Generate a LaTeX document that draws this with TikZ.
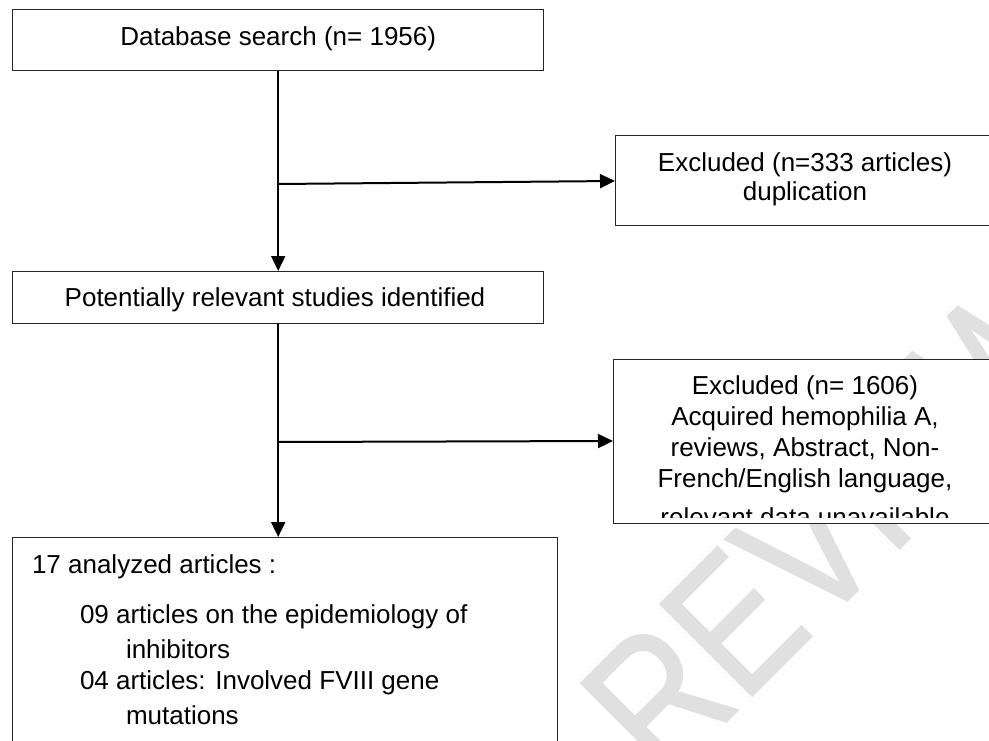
\documentclass[tikz,border=0pt]{standalone}
\usepackage{fontspec}
\setmainfont{Liberation Sans}
\newfontfamily\wmfont{Liberation Sans}[FakeStretch=0.82,FakeBold=1]
\usetikzlibrary{arrows.meta}
\definecolor{wm}{gray}{0.88}
\begin{document}
\begin{tikzpicture}[x=1pt,y=-1pt,
  box/.style={draw=black!85,line width=1pt,fill=white,rectangle,inner sep=0pt,outer sep=0pt},
  conn/.style={line width=2pt,draw=black},
  arr/.style={conn,-{Triangle[length=15pt,width=14pt]}},
  txt/.style={inner sep=0pt,outer sep=0pt,font=\fontsize{26pt}{31pt}\selectfont},
  ctxt/.style={txt,anchor=base},
  ltxt/.style={txt,anchor=base west}]
\useasboundingbox (0,0) rectangle (989,741);
\clip (0,0) rectangle (989,741);
\fill[white] (0,0) rectangle (989,741);
% watermark
\node[anchor=base west,rotate=45,text=wm,inner sep=0pt,outer sep=0pt,
      font=\wmfont\fontsize{189pt}{189pt}\selectfont] (wmark) at (664,784) {REVIEW};
% boxes
\node[box,minimum width=531pt,minimum height=61.4pt] (db) at (278.2,40) {};
\node[ctxt] (tdb) at (278.2,45.5) {Database search (n= 1956)};
\node[box,minimum width=531pt,minimum height=52pt] (pot) at (278.2,297) {};
\node[ctxt] (tpot) at (275,306) {Potentially relevant studies identified};
\node[box,minimum width=380pt,minimum height=90pt] (ex1) at (805,181) {};
\node[ctxt] (tex1a) at (805,172) {Excluded (n=333 articles)};
\node[ctxt] (tex1b) at (805,201) {duplication};
\node[box,minimum width=384pt,minimum height=164pt] (ex2) at (805,441) {};
\begin{scope}
\clip (613,359) rectangle (997,517);
\node[ctxt] (tex2a) at (805,394) {Excluded (n= 1606)};
\node[ctxt] (tex2b) at (805,425) {Acquired hemophilia A,};
\node[ctxt] (tex2c) at (805,456) {reviews, Abstract, Non-};
\node[ctxt] (tex2d) at (805,487) {French/English language,};
\node[ctxt] (tex2e) at (805,526) {relevant data unavailable};
\end{scope}
\node[box,minimum width=544.3pt,minimum height=253pt] (fin) at (284.85,663.5) {};
\node[ltxt] (tf1) at (32,573) {17 analyzed articles :};
\node[ltxt] (tf2) at (80,623) {09 articles on the epidemiology of};
\node[ltxt] (tf3) at (126,658) {inhibitors};
\node[ltxt] (tf4) at (80,689) {04 articles: Involved FVIII gene};
\node[ltxt] (tf5) at (126,724) {mutations};
% connectors
\draw[arr] (db.south) -- (pot.north);
\coordinate (j1) at (278.2,184);
\draw[arr] (j1) -- (ex1.west);
\draw[arr] (pot.south) -- (pot.south |- fin.north);
\coordinate (j2) at (278.2,442);
\draw[arr] (j2) -- (ex2.west);
\end{tikzpicture}
\end{document}
